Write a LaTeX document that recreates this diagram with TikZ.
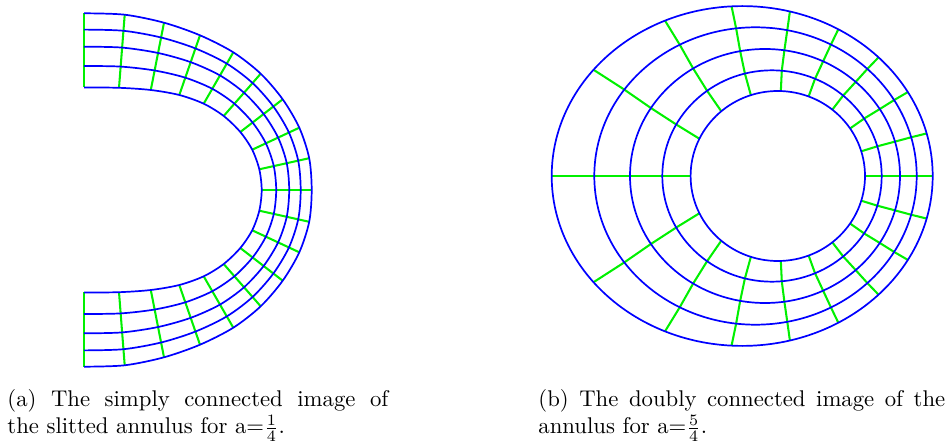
\documentclass[tikz,border=0pt]{standalone}
\usetikzlibrary{calc}

\definecolor{meshblue}{RGB}{0,0,255}
\definecolor{meshgreen}{RGB}{0,240,0}

% slitted annulus: outer and inner end points of the radial lines
\def\Ox{{84,124.7,164,200,233.3,260.7,282.7,299.3,309.2,311.7,309.2,299.3,282.7,260.7,233.3,200,164,124.7,84}}
\def\Oh{{176.7,175.3,167.3,154.7,137.7,116.3,90.7,62.3,31.8,0,-31.8,-62.3,-90.7,-116.3,-137.7,-154.7,-167.3,-175.3,-176.7}}
\def\Ix{{84,119,150.8,179.3,203.7,223.7,240.3,252.2,259.3,261.7,259.3,252.2,240.3,223.7,203.7,179.3,150.8,119,84}}
\def\Ih{{102.5,102.2,100,95,86.3,74,58,40.3,20.7,0,-20.7,-40.3,-58,-74,-86.3,-95,-100,-102.2,-102.5}}

% annulus: the five level curves
\def\Ecx{{742.2,755.5,765,772,777.8}}
\def\Erx{{190.5,161.2,135,109.7,87.2}}
\def\Ery{{169.9,148.7,127,105.7,85}}

\begin{document}
\begin{tikzpicture}[
  x=0.44pt, y=-0.44pt,
  levelline/.style = {draw=meshblue, line width=0.75pt},
  rayline/.style   = {draw=meshgreen, line width=0.9pt},
  caption/.style   = {anchor=base west, align=justify, inner sep=0pt}
]
\useasboundingbox (0,0) rectangle (946,444);

% (a) slitted annulus
\foreach \j in {0,...,18}
  \draw[rayline] ({\Ox[\j]},{190-\Oh[\j]}) -- ({\Ix[\j]},{190-\Ih[\j]});
\foreach \f in {0,0.22,0.45,0.71,1}
  \draw[levelline] plot[smooth, variable=\j, samples at={0,...,18}]
    ({\Ox[\j]+\f*(\Ix[\j]-\Ox[\j])},{190-\Oh[\j]-\f*(\Ih[\j]-\Oh[\j])});

% (b) annulus
\foreach \ao/\ai in {0/0,14.5/16.9,29.6/34,44.3/51.3,59.7/69.3,75.5/88,
                     93.2/108,113.9/130.4,141.3/154,180/180,
                     -14.5/-16.9,-29.6/-34,-44.3/-51.3,-59.7/-69.3,-75.5/-88,
                     -93.2/-108,-113.9/-130.4,-141.3/-154}
  \draw[rayline] plot[variable=\k, samples at={0,...,4}]
    ({\Ecx[\k]+\Erx[\k]*cos((\ao)+\k*((\ai)-(\ao))/4)},
     {176-\Ery[\k]*sin((\ao)+\k*((\ai)-(\ao))/4)});
\foreach \k in {0,...,4}{
  \pgfmathsetmacro\cx{\Ecx[\k]}
  \pgfmathsetmacro\rx{\Erx[\k]}
  \pgfmathsetmacro\ry{\Ery[\k]}
  \draw[levelline] (\cx,176) ellipse [x radius=\rx, y radius=\ry];
}

\node[caption, text width=167.6pt] (capa) at (7,406.7)
  {(a) The simply connected image of\linebreak the slitted annulus for a=$\frac{1}{4}$.};
\node[caption, text width=179pt] (capb) at (538,406.7)
  {(b) The doubly connected image of the\linebreak annulus for a=$\frac{5}{4}$.};
\end{tikzpicture}
\end{document}
